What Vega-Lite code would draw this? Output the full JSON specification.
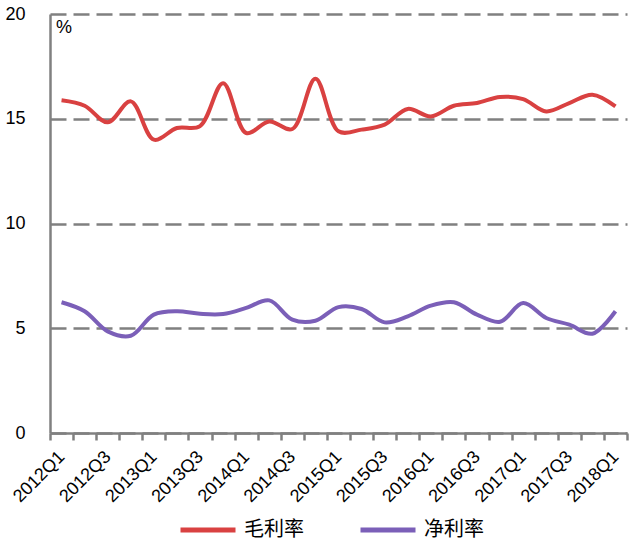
{
"$schema": "https://vega.github.io/schema/vega-lite/v6.json",
"width": 577, "height": 419,
"autosize": "none",
"padding": {"left": 50, "top": 14, "right": 13, "bottom": 117},
"background": "#ffffff",
"config": {"view": {"stroke": null}, "font": "Liberation Sans"},
"data": {"values": [
{"q":"2012Q1","s":"毛利率","v":15.88},{"q":"2012Q2","s":"毛利率","v":15.62},{"q":"2012Q3","s":"毛利率","v":14.83},{"q":"2012Q4","s":"毛利率","v":15.83},
{"q":"2013Q1","s":"毛利率","v":14.0},{"q":"2013Q2","s":"毛利率","v":14.56},{"q":"2013Q3","s":"毛利率","v":14.65},{"q":"2013Q4","s":"毛利率","v":16.7},
{"q":"2014Q1","s":"毛利率","v":14.32},{"q":"2014Q2","s":"毛利率","v":14.87},{"q":"2014Q3","s":"毛利率","v":14.51},{"q":"2014Q4","s":"毛利率","v":16.91},
{"q":"2015Q1","s":"毛利率","v":14.4},{"q":"2015Q2","s":"毛利率","v":14.48},{"q":"2015Q3","s":"毛利率","v":14.72},{"q":"2015Q4","s":"毛利率","v":15.47},
{"q":"2016Q1","s":"毛利率","v":15.11},{"q":"2016Q2","s":"毛利率","v":15.62},{"q":"2016Q3","s":"毛利率","v":15.75},{"q":"2016Q4","s":"毛利率","v":16.04},
{"q":"2017Q1","s":"毛利率","v":15.94},{"q":"2017Q2","s":"毛利率","v":15.35},{"q":"2017Q3","s":"毛利率","v":15.75},{"q":"2017Q4","s":"毛利率","v":16.15},
{"q":"2018Q1","s":"毛利率","v":15.59},
{"q":"2012Q1","s":"净利率","v":6.24},{"q":"2012Q2","s":"净利率","v":5.81},{"q":"2012Q3","s":"净利率","v":4.85},{"q":"2012Q4","s":"净利率","v":4.64},
{"q":"2013Q1","s":"净利率","v":5.65},{"q":"2013Q2","s":"净利率","v":5.81},{"q":"2013Q3","s":"净利率","v":5.69},{"q":"2013Q4","s":"净利率","v":5.68},
{"q":"2014Q1","s":"净利率","v":5.97},{"q":"2014Q2","s":"净利率","v":6.33},{"q":"2014Q3","s":"净利率","v":5.41},{"q":"2014Q4","s":"净利率","v":5.36},
{"q":"2015Q1","s":"净利率","v":6.01},{"q":"2015Q2","s":"净利率","v":5.92},{"q":"2015Q3","s":"净利率","v":5.28},{"q":"2015Q4","s":"净利率","v":5.57},
{"q":"2016Q1","s":"净利率","v":6.08},{"q":"2016Q2","s":"净利率","v":6.24},{"q":"2016Q3","s":"净利率","v":5.65},{"q":"2016Q4","s":"净利率","v":5.31},
{"q":"2017Q1","s":"净利率","v":6.2},{"q":"2017Q2","s":"净利率","v":5.49},{"q":"2017Q3","s":"净利率","v":5.17},{"q":"2017Q4","s":"净利率","v":4.74},
{"q":"2018Q1","s":"净利率","v":5.81}
]},
"mark": {"type": "line", "interpolate": "catmull-rom", "strokeWidth": 4},
"encoding": {
"x": {"field": "q", "type": "ordinal", "sort": null,
  "scale": {"type": "band", "paddingInner": 0, "paddingOuter": 0},
  "axis": {"title": null, "tickBand": "extent", "labelOverlap": false, "labelAngle": -45,
    "labelAlign": "right", "labelBaseline": "middle",
    "labelExpr": "(substring(datum.value,5,6)=='1' || substring(datum.value,5,6)=='3') ? datum.value : ''",
    "labelFontSize": 18, "labelColor": "#000000", "labelPadding": 14,
    "domainColor": "#808080", "domainWidth": 2.5, "tickColor": "#808080", "tickWidth": 2.5, "tickSize": 7, "grid": false}},
"y": {"field": "v", "type": "quantitative",
  "scale": {"domain": [0, 20], "nice": false},
  "axis": {"values": [0, 5, 10, 15, 20], "title": "%", "titleAngle": 0, "titleX": 13.5, "titleY": 13,
    "titleAlign": "center", "titleBaseline": "middle", "titleFontSize": 18, "titleFontWeight": "normal", "titleColor": "#000000",
    "labelFontSize": 18, "labelColor": "#000000", "labelPadding": 25, "ticks": false,
    "domainColor": "#808080", "domainWidth": 2.5,
    "grid": true, "gridColor": "#808080", "gridWidth": 2.5, "gridDash": [16, 7]}},
"color": {"field": "s", "type": "nominal",
  "scale": {"domain": ["毛利率", "净利率"], "range": ["#d94141", "#7b5fb8"]},
  "legend": {"title": null, "orient": "none", "legendX": 128, "legendY": 486, "direction": "horizontal",
    "symbolType": "stroke", "symbolSize": 3025, "symbolStrokeWidth": 5, "labelFontSize": 20,
    "labelFont": "Noto Sans CJK SC", "labelOffset": 6, "columnPadding": 46, "padding": 0}}
}
}
